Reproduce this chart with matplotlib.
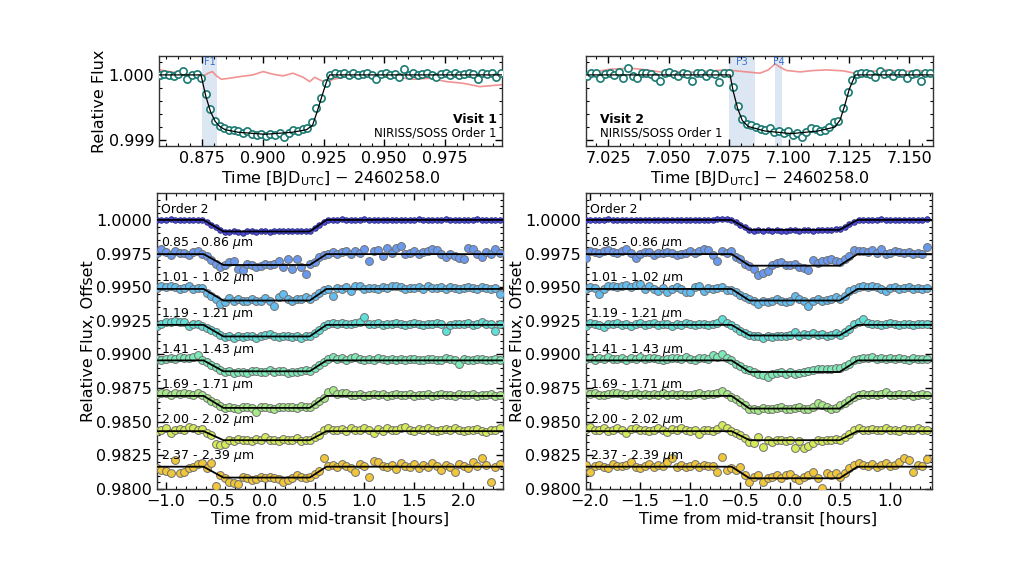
import numpy as np
import matplotlib
matplotlib.use("Agg")
import matplotlib.pyplot as plt
from matplotlib.ticker import MultipleLocator, FormatStrFormatter, FuncFormatter

# ===================== DATA =====================
# ---- Top panels: NIRISS/SOSS Order 1 white-light (flux in ppm relative to 1.0)
v1_t0 = 0.8575          # BJD_UTC - 2460258.0 of first exposure
v1_dt = 0.0019          # cadence [days]
v1_flux_ppm = [0, 10, 0, -15, 10, 66, -67, 0, 10,
               -40, -300, -520, -700, -790,
               -820, -846, -846, -856, -887, -862, -913, -923, -908, -938,
               -913, -923, -897, -949, -887, -846, -856, -836, -810,
               -718, -513, -359, -118,
               0, 26, 10, 26, 0, 26, 0, 10, 26, 0, -62, 10, 26, 0, 10, -26, 87, 0,
               26, 0, 15, 26, 0, -26, 10, 26, 0, 36, 0, 10, 36, 10, -67, 26, 10, 26, -26, 26]
v1_model_t = [0.8572, 0.8745, 0.8765, 0.8784, 0.8803, 0.8822, 0.8845, 0.8900, 0.9008,
              0.9120, 0.9180, 0.9205, 0.9224, 0.9243, 0.9262, 0.9275, 0.9986]
v1_model_ppm = [0, 0, -330, -560, -710, -790, -840, -880, -910,
                -880, -840, -770, -560, -330, -110, 0, 0]
v1_red_t = [0.8575, 0.8616, 0.8657, 0.8712, 0.8747, 0.8774, 0.8792, 0.8809, 0.8829, 0.8863,
            0.8905, 0.8959, 0.9001, 0.9042, 0.9083, 0.9124, 0.9166, 0.9193, 0.9214, 0.9235,
            0.9262, 0.9289, 0.9345, 0.9413, 0.9482, 0.9551, 0.9619, 0.9688, 0.9757, 0.9825,
            0.9894, 0.9986]
v1_red_ppm = [77, 51, 26, -15, -36, 26, 51, -15, -67, -51,
              -26, 0, 51, 10, -15, 26, -36, -103, -36, -77,
              -118, -67, -26, -15, -26, -36, -67, -51, -103, -128,
              -180, -150]
v1_spans = [(0.8751, 0.8811)]
v1_span_labels = ["F1"]

v2_t0 = 7.0160
v2_dt = 0.0019
v2_flux_ppm = [-15, 26, 36, -41, 10, 26, 0, 51, -41, 113, -15, -41, 26, 36, 10, -26,
               -87, 26, 51, 10, -15, 36, 10, -87, 26, 36, -15, 26, 10, -103, 26, 36,
               -180, -470, -680, -760,
               -770, -805, -836, -846, -821, -872, -856, -887, -856, -923, -897, -949,
               -872, -821, -836, -856, -846, -805, -720,
               -700, -500, -260, -80, 10,
               26, 36, 10, -26, 67, 10, 26, -15, 36, 26, -41, 10, 26, -87, 36, 26]
v2_model_t = [7.0157, 7.0755, 7.0768, 7.0787, 7.0806, 7.0830, 7.0900, 7.1010, 7.1120,
              7.1190, 7.1212, 7.1231, 7.1250, 7.1275, 7.1598]
v2_model_ppm = [0, 0, -250, -520, -700, -790, -860, -900, -860,
                -800, -690, -470, -220, 0, 0]
v2_red_t = [7.0160, 7.0257, 7.0340, 7.0409, 7.0464, 7.0533, 7.0603, 7.0672, 7.0741, 7.0810,
            7.0879, 7.0914, 7.0942, 7.0963, 7.0990, 7.1046, 7.1101, 7.1156, 7.1225, 7.1273,
            7.1336, 7.1405, 7.1474, 7.1543, 7.1596]
v2_red_ppm = [26, 87, 103, 77, 46, 51, 41, 62, 77, 51,
              26, 77, 169, 118, 67, 46, 67, 77, 62, 26,
              51, 77, 51, 67, 36]
v2_spans = [(7.0751, 7.0858), (7.0941, 7.0972)]
v2_span_labels = ["F3", "F4"]

# ---- Bottom panels: spectroscopic light curves (flux deviation from baseline, units of 1e-5)
channel_labels = ["Order 2", r"0.85 - 0.86 $\mu$m", r"1.01 - 1.02 $\mu$m", r"1.19 - 1.21 $\mu$m",
                  r"1.41 - 1.43 $\mu$m", r"1.69 - 1.71 $\mu$m", r"2.00 - 2.02 $\mu$m",
                  r"2.37 - 2.39 $\mu$m"]
baselines = [1.0000, 0.99746, 0.99487, 0.99220, 0.98956, 0.98692, 0.98430, 0.98166]

left_t0 = -1.09     # hours from mid-transit
left_dt = 0.0455
left_model_t = [-1.09, -0.62, -0.42, 0.45, 0.62, 2.40]
left_depth = [86, 81, 86, 86, 81, 89, 67, 81]

L_o2 = [2, -3, 1, 4, -2, 0, 3, -4, 1, 2, -3, -15, -36, -54, -74,
        -88, -92, -85, -90, -94, -86, -82, -88, -85, -83, -87, -84, -81, -86, -84, -80, -85, -83, -79,
        -82, -58, -35, -12,
        3, 0, -2, 4, 1, -3, 2, 0, 5, -2, 1, 3, -1, 2, 0, -4, 3, 1, -2, 2, 5, 0, -3, 1, 2, -1,
        4, 0, -2, 3, 1, -1, 2, 5, 0, -2, 3, 1, 2]
L_085 = [10, 40, 15, -5, 20, 5, 10, -10, 15, 20, 0, -15, -45, -70, -95,
         -80, -62, -49, -111, -116, -74, -80, -99, -86, -74, -78, -70, -49, -99, -37, -111, -37, -99, -148,
         -74, -60, -25, -10,
         0, 12, 0, 12, 20, 0, 25, 10, 37, -49, 25, 32, -12, 42, 10, 49, 62, 0, 10, 20, 0, 15,
         25, 37, 32, 0, -25, 0, -12, -32, -37, 42, 37, 0, -25, 12, 0, 37, 5]
L_101 = [5, 20, 12, 20, 15, 0, 5, 25, 0, 10, 5, -30, -50, -74, -111,
         -99, -70, -86, -78, -93, -86, -74, -86, -93, -68, -86, -123, -62, -37, -74, -86, -74, -74, -62,
         -74, -55, -30, -10,
         0, -54, 5, 0, 12, -12, 20, 25, 0, 5, 10, 0, 15, 5, 25, 20, 12, 0, 10, 5, 15, 0, 20,
         10, 5, 12, 0, 15, 5, 0, 10, 12, 5, 0, 15, 10, 0, 5, -37]
L_119 = [-5, 7, 20, 20, 32, 20, 25, -5, 7, 5, -5, -20, -38, -52, -74,
         -91, -84, -96, -86, -91, -79, -86, -96, -84, -74, -67, -84, -91, -86, -79, -91, -86, -94, -84,
         -84, -58, -38, -10,
         7, 12, 5, 15, 10, 5, 12, 20, 57, 10, 5, 12, 0, 7, 10, 15, 5, 0, 7, 12, 5, 0, 10, 7,
         12, 5, -42, 0, 10, 7, 5, 12, 0, 7, 20, 10, 5, -42, 5]
L_141 = [12, 0, 7, 20, 12, 25, 20, 15, 25, 37, 5, -15, -32, -50, -70,
         -86, -81, -91, -84, -86, -96, -81, -79, -86, -84, -74, -86, -81, -79, -91, -84, -86, -81, -74,
         -76, -55, -32, -10,
         12, 25, 10, 20, 5, 15, 25, 10, 0, 12, 5, 15, 7, 0, 10, 5, 12, 0, 7, 10, 0, 5, 12, 10,
         0, 5, 15, 7, 0, -25, 10, 5, 0, 7, 12, 0, 5, 10, 0]
L_169 = [15, 25, 20, 10, 25, 12, 20, 15, 10, 20, 5, -15, -35, -55, -75,
         -91, -84, -89, -96, -84, -86, -91, -119, -84, -79, -89, -94, -86, -84, -79, -84, -89, -74, -86,
         -84, -60, -40, -12,
         30, 42, 15, 25, 20, 10, 5, 12, 0, 10, 15, 5, 12, 0, 7, 15, 10, 5, 12, 0, 5, 10, 12, 0,
         7, 15, 5, 10, 0, 12, 5, 7, 15, 0, 10, 5, 12, 0, 5]
L_200 = [0, 7, 20, -10, 7, 15, 7, 32, 20, 7, 15, -10, -30, -99, -104,
         -96, -67, -74, -57, -67, -62, -74, -57, -67, -44, -67, -62, -74, -57, -67, -62, -52, -74, -62,
         -62, -42, -30, 12,
         20, 12, 7, 15, 0, 20, 7, 12, 25, 7, -10, 15, 0, 20, 12, 7, 25, 30, 12, 0, 15, 7, 20,
         12, 0, 7, 15, 5, 20, 10, 0, 12, 7, 15, 0, -5, 12, 7, 20]
L_237 = [-12, -25, -32, -49, 49, -49, -37, -12, 0, 17, 25, -10, 25, -141, -62,
         -86, -111, -124, -131, -74, -86, -99, -91, -74, -86, -74, -86, -91, -111, -99, -86, -62, -74, -81,
         -74, -55, -30, 62,
         7, 12, 0, 17, 5, -12, -37, 20, 7, -74, 42, 32, 7, 0, 12, -20, 25, 7, 0, 17, -12, 12,
         0, 25, 7, -25, 12, 0, -37, 20, 7, -12, 32, 7, 62, 12, -111, 0, 17]

right_t0 = -2.04
right_dt = 0.0455
right_model_t = [-2.04, -0.58, -0.40, 0.50, 0.68, 1.42]
right_depth = [74, 86, 86, 79, 86, 94, 67, 86]

R_o2 = [2, 0, 3, -2, 1, 4, 0, -3, 2, 1, 0, 3, -1, 2, 0, -2, 3, 1, 0, 2, -1, 3, 0, 1, 2, -2,
        0, 3, 1, 8, 10, 5, -2, -18, -36, -55,
        -75, -80, -78, -82, -77, -80, -76, -79, -82, -75, -78, -80, -77, -74, -79, -76, -72, -78, -74, -70,
        -70, -52, -33, -14,
        2, 0, 3, -1, 2, 4, 0, 1, 3, -2, 0, 2, 1, 3, 0, 4]
R_085 = [-30, 20, 12, 7, 25, 32, 12, 7, 20, 37, 5, -30, 2, 12, 12, -5, 7, 7, 12, 7, -5, 2, 5,
         20, 7, 20, 37, 32, -5, -54, 20, 7, 25, -20, -40, -70,
         -91, -110, -153, -141, -128, -80, -66, -62, -80, -80, -74, -96, -103, -116, -42, -66, -54, -42, -37, -54,
         -60, -35, -17, 32,
         25, 20, 12, 32, 5, 37, 0, 10, 20, 12, 7, 15, 0, 7, 2, 52]
R_101 = [0, 17, 5, -37, 0, 25, 20, 12, 25, 30, 12, 32, 37, 0, 25, 0, -12, 5, -20, 0, 12, 0,
         -20, -25, 12, 20, -12, 5, 0, 10, 12, -5, -5, -25, -45, -62,
         -74, -86, -111, -86, -99, -86, -74, -86, -99, -86, -54, -74, -86, -123, -86, -74, -86, -82, -74, -62,
         -74, -55, -15, 0,
         12, 20, 17, 20, 12, 0, -12, 5, 12, 0, 5, 12, 0, 5, 0, 5]
R_119 = [-5, 15, 7, 0, -17, 10, 5, 12, 0, 7, -10, 5, 12, 0, 7, 15, 0, 5, 10, -5, 7, 0, 12, 5,
         0, 7, 10, 0, 5, 12, 40, 15, 0, -20, -42, -62,
         -74, -79, -86, -99, -79, -91, -84, -79, -86, -74, -54, -79, -67, -74, -62, -74, -67, -79, -72, -62,
         -74, -55, -30, 7,
         20, 40, 12, 5, 10, 0, 7, 12, 5, 0, 10, 7, 0, 5, 10, 5]
R_141 = [12, 20, 5, 15, 12, 25, 7, 12, 20, 5, 15, 12, 25, 7, 15, 20, 10, 5, 12, 20, 15, 7, 25,
         12, 5, 15, 20, 10, 37, 25, 49, 20, 0, -25, -45, -65,
         -74, -86, -99, -111, -123, -99, -91, -86, -99, -86, -99, -91, -86, -79, -74, -62, -62, -67, -62, -57,
         -60, -45, -25, 5,
         10, 20, 15, 25, 12, 20, 7, 15, 10, 20, 12, 5, 15, 12, 7, 10]
R_169 = [25, 12, 20, 10, 5, 15, 25, 20, 12, 7, 15, 20, 5, 12, 7, 15, 10, 20, 5, 12, 7, 15, 10,
         5, 12, 20, 7, 15, 12, 20, 37, 15, -5, -25, -48, -70,
         -94, -99, -104, -91, -94, -99, -91, -86, -99, -94, -91, -86, -99, -94, -86, -49, -67, -86, -94, -91,
         -70, -50, -30, -5,
         10, 12, 5, 15, 7, 12, 30, 10, 5, 12, 7, 15, 0, 10, 12, 7]
R_200 = [15, 32, 12, 7, 20, 0, 12, 25, 7, -12, 15, 20, 5, 12, 0, 7, 20, 12, -5, 15, 7, 20, 12,
         0, 7, -20, 12, 5, 0, 15, 49, 20, 0, -15, -32, -50,
         -79, -86, -42, -116, -67, -79, -62, -67, -74, -62, -123, -74, -128, -109, -86, -67, -74, -62, -67, -60,
         -62, -42, -20, 7,
         20, 12, 7, 15, 5, 12, 20, 7, 12, 0, 15, 7, 12, 20, 5, 12]
R_237 = [12, -37, 5, 12, 0, -12, 20, 7, 5, 12, 37, 0, -12, 7, 20, 0, 12, 5, 37, 62, 0, 12, -5,
         7, 20, 0, 12, 5, 7, -37, 74, -25, -10, -25, 0, -60,
         -111, -74, -62, -111, -86, -74, -62, -86, -62, -57, -86, -99, -74, -62, -37, -86, -160, -49, -62, -50,
         -75, -50, -12, 12,
         25, 12, 7, 20, 0, 12, 25, 7, 15, 37, 62, 50, -37, 12, 5, 57]

left_series = [L_o2, L_085, L_101, L_119, L_141, L_169, L_200, L_237]
right_series = [R_o2, R_085, R_101, R_119, R_141, R_169, R_200, R_237]

# ===================== STYLE =====================
face_colors = ["#4b4bd6", "#6a9af0", "#62bdf0", "#5ee0d8", "#7eeab8", "#a8ea88", "#d6ea5a", "#f0c63a"]
edge_colors = ["#2a2a80"] + ["#707070"] * 7
teal = "#1b7a72"
FS = 11.5

plt.rcParams["font.family"] = ["DejaVu Sans"]
plt.rcParams["mathtext.fontset"] = "dejavusans"


def fmt(nd):
    return FuncFormatter(lambda v, p: f"{v:.{nd}f}".replace("-", "\u2212"))


fig = plt.figure(figsize=(10.24, 5.76), dpi=100)
ax_tl = fig.add_axes([0.1553, 0.7465, 0.3350, 0.1563])
ax_tr = fig.add_axes([0.5723, 0.7465, 0.3389, 0.1563])
ax_bl = fig.add_axes([0.1533, 0.1510, 0.3379, 0.5139])
ax_br = fig.add_axes([0.5718, 0.1510, 0.3379, 0.5139])


def style_ticks(ax):
    ax.tick_params(which="both", direction="in", top=True, right=True, labelsize=FS)
    ax.tick_params(which="major", length=5, width=1)
    ax.tick_params(which="minor", length=2.5, width=0.8)
    for s in ax.spines.values():
        s.set_linewidth(1.0)
        s.set_color("#333333")


def top_panel(ax, t0, dt, flux_ppm, mt, mppm, rt, rppm, spans, slabels, xlim, xmajor):
    t = t0 + dt * np.arange(len(flux_ppm))
    f = 1.0 + np.array(flux_ppm) * 1e-6
    for (a, b), lab in zip(spans, slabels):
        ax.axvspan(a, b, color="#dde7f3", zorder=0, lw=0)
        ax.text((a + b) / 2, 1.000275, lab, color="#3a72d0", fontsize=7, ha="center", va="top", zorder=5)
    ax.plot(rt, 1.0 + np.array(rppm) * 1e-6, color="#f08080", lw=1.2, alpha=0.85, zorder=1)
    ax.plot(t, f, "o", ms=5.2, mfc="white", mec=teal, mew=1.2, zorder=3)
    ax.plot(mt, 1.0 + np.array(mppm) * 1e-6, color="black", lw=0.9, zorder=4)
    ax.set_xlim(*xlim)
    ax.set_ylim(0.99891, 1.00029)
    ax.xaxis.set_major_locator(MultipleLocator(xmajor))
    ax.xaxis.set_minor_locator(MultipleLocator(0.005))
    ax.xaxis.set_major_formatter(fmt(3))
    ax.yaxis.set_major_locator(MultipleLocator(0.001))
    ax.yaxis.set_minor_locator(MultipleLocator(0.0002))
    ax.yaxis.set_major_formatter(fmt(3))
    ax.set_xlabel("Time [BJD$_{\\rm UTC}$] \u2212 2460258.0", fontsize=FS, labelpad=2)
    style_ticks(ax)


top_panel(ax_tl, v1_t0, v1_dt, v1_flux_ppm, v1_model_t, v1_model_ppm, v1_red_t, v1_red_ppm,
          v1_spans, v1_span_labels, (0.8572, 0.9986), 0.025)
ax_tl.set_ylabel("Relative Flux", fontsize=FS, labelpad=1)
ax_tl.text(0.985, 0.30, "Visit 1", transform=ax_tl.transAxes, ha="right", va="center",
           fontsize=9, fontweight="bold")
ax_tl.text(0.985, 0.145, "NIRISS/SOSS Order 1", transform=ax_tl.transAxes, ha="right", va="center",
           fontsize=8.5)

top_panel(ax_tr, v2_t0, v2_dt, v2_flux_ppm, v2_model_t, v2_model_ppm, v2_red_t, v2_red_ppm,
          v2_spans, v2_span_labels, (7.0157, 7.1598), 0.025)
ax_tr.tick_params(labelleft=False)
ax_tr.text(0.04, 0.30, "Visit 2", transform=ax_tr.transAxes, ha="left", va="center",
           fontsize=9, fontweight="bold")
ax_tr.text(0.04, 0.145, "NIRISS/SOSS Order 1", transform=ax_tr.transAxes, ha="left", va="center",
           fontsize=8.5)


def bottom_panel(ax, t0, dt, series, model_t, depths, xlim):
    for k, (vals, base, depth, lab) in enumerate(zip(series, baselines, depths, channel_labels)):
        t = t0 + dt * np.arange(len(vals))
        f = base + np.array(vals) * 1e-5
        if k == 0:
            ax.scatter(t, f, s=16, c=face_colors[k], edgecolors=edge_colors[k], linewidths=0.6, zorder=3)
        else:
            ax.scatter(t, f, s=32, c=face_colors[k], edgecolors=edge_colors[k], linewidths=0.7, zorder=3)
        my = [base, base, base - depth * 1e-5, base - depth * 1e-5, base, base]
        ax.plot(model_t, my, color="black", lw=1.3, zorder=4)
        ax.text(xlim[0] + 0.012 * (xlim[1] - xlim[0]), base + 0.0008, lab, fontsize=9,
                ha="left", va="center", zorder=5)
    ax.set_xlim(*xlim)
    ax.set_ylim(0.9800, 1.0020)
    ax.xaxis.set_major_locator(MultipleLocator(0.5))
    ax.xaxis.set_minor_locator(MultipleLocator(0.1))
    ax.xaxis.set_major_formatter(fmt(1))
    ax.yaxis.set_major_locator(MultipleLocator(0.0025))
    ax.yaxis.set_minor_locator(MultipleLocator(0.0005))
    ax.yaxis.set_major_formatter(fmt(4))
    ax.set_xlabel("Time from mid-transit [hours]", fontsize=FS, labelpad=2)
    ax.set_ylabel("Relative Flux, Offset", fontsize=FS, labelpad=0)
    style_ticks(ax)


bottom_panel(ax_bl, left_t0, left_dt, left_series, left_model_t, left_depth, (-1.09, 2.40))
bottom_panel(ax_br, right_t0, right_dt, right_series, right_model_t, right_depth, (-2.04, 1.42))

fig.savefig("out.png", dpi=100)
